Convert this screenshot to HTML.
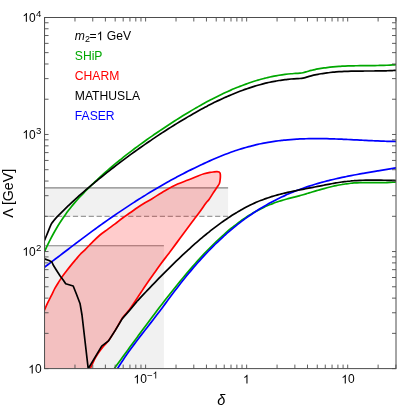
<!DOCTYPE html>
<html><head><meta charset="utf-8"><title>plot</title>
<style>html,body{margin:0;padding:0;background:#fff;overflow:hidden}body{width:399px;height:408px;font-family:"Liberation Sans",sans-serif}</style></head>
<body>
<svg width="399" height="408" viewBox="0 0 399 408" style="display:block;will-change:transform">
<rect width="399" height="408" fill="#fff"/>
<defs><clipPath id="c"><rect x="44.55" y="17.5" width="351.45" height="351.1"/></clipPath></defs>
<rect x="44.55" y="187.9" width="183.55" height="28.400000000000006" fill="#f1f1f1"/>
<rect x="44.55" y="245.8" width="119.35000000000001" height="122.80000000000001" fill="#f1f1f1"/>
<line x1="44.55" y1="187.9" x2="228.1" y2="187.9" stroke="#848484" stroke-width="1.1"/>
<line x1="44.55" y1="216.3" x2="228.1" y2="216.3" stroke="#848484" stroke-width="1" stroke-dasharray="5.2 2.7" stroke-dashoffset="3.25"/>
<line x1="44.55" y1="245.8" x2="163.9" y2="245.8" stroke="#848484" stroke-width="1.1"/>
<polygon points="44.55,298.3 50.3,298.3 44.55,310.4" fill="#ffffff"/>
<g clip-path="url(#c)" fill="none" stroke-linejoin="round" stroke-linecap="butt">
<path d="M44.50 310.10 C45.00 308.95 46.37 305.60 47.50 303.20 C48.63 300.80 50.05 298.20 51.30 295.70 C52.55 293.20 53.75 290.50 55.00 288.20 C56.25 285.90 57.53 283.91 58.80 281.90 C60.07 279.89 61.35 277.89 62.60 276.12 C63.85 274.35 64.85 273.13 66.30 271.26 C67.75 269.38 69.68 266.86 71.30 264.87 C72.92 262.88 74.53 261.03 76.00 259.30 C77.47 257.57 78.60 256.08 80.10 254.49 C81.60 252.90 82.93 251.85 85.00 249.78 C87.07 247.71 90.00 244.55 92.50 242.08 C95.00 239.61 97.48 237.10 100.00 234.98 C102.52 232.85 105.08 231.18 107.60 229.33 C110.12 227.48 112.60 225.78 115.10 223.89 C117.60 222.00 120.10 219.85 122.60 218.00 C125.10 216.15 127.60 214.55 130.10 212.80 C132.60 211.05 135.12 209.17 137.60 207.50 C140.08 205.83 142.52 204.31 145.00 202.80 C147.48 201.29 149.17 200.46 152.50 198.43 C155.83 196.41 160.82 193.04 165.00 190.65 C169.18 188.26 173.77 185.86 177.60 184.10 C181.43 182.34 184.60 181.43 188.00 180.07 C191.40 178.71 195.33 176.96 198.00 175.92 C200.67 174.88 202.00 174.39 204.00 173.80 C206.00 173.21 208.33 172.72 210.00 172.40 C211.67 172.08 212.83 172.02 214.00 171.90 C215.17 171.78 216.17 171.69 217.00 171.70 C217.83 171.71 218.48 171.71 219.00 171.96 C219.52 172.21 219.87 172.53 220.10 173.20 C220.33 173.87 220.40 174.87 220.40 176.00 C220.40 177.13 220.27 178.75 220.10 180.00 C219.93 181.25 219.88 182.33 219.40 183.50 C218.92 184.67 218.18 185.50 217.20 187.00 C216.22 188.50 214.87 190.42 213.50 192.50 C212.13 194.58 210.25 197.75 209.00 199.50 C207.75 201.25 207.50 201.00 206.00 203.00 C204.50 205.00 202.00 208.75 200.00 211.50 C198.00 214.25 196.00 216.83 194.00 219.50 C192.00 222.17 190.33 224.37 188.00 227.50 C185.67 230.63 182.77 234.55 180.00 238.30 C177.23 242.05 173.47 247.22 171.40 250.00 C169.33 252.78 169.28 252.80 167.60 255.00 C165.92 257.20 163.38 260.38 161.30 263.20 C159.22 266.02 157.18 268.98 155.10 271.90 C153.02 274.82 150.90 277.67 148.80 280.70 C146.70 283.73 144.58 286.97 142.50 290.10 C140.42 293.23 138.47 296.25 136.30 299.50 C134.13 302.75 131.78 306.57 129.50 309.60 C127.22 312.63 124.88 314.40 122.60 317.70 C120.32 321.00 118.08 325.65 115.80 329.40 C113.52 333.15 111.12 337.18 108.90 340.20 C106.68 343.22 104.68 344.70 102.50 347.50 C100.32 350.30 97.85 353.47 95.80 357.00 C93.75 360.53 91.13 366.75 90.20 368.70 L44.55 368.6 Z" fill="#ff0000" fill-opacity="0.2" stroke="none"/>
<path d="M44.50 310.10 C45.00 308.95 46.37 305.60 47.50 303.20 C48.63 300.80 50.05 298.20 51.30 295.70 C52.55 293.20 53.75 290.50 55.00 288.20 C56.25 285.90 57.53 283.91 58.80 281.90 C60.07 279.89 61.35 277.89 62.60 276.12 C63.85 274.35 64.85 273.13 66.30 271.26 C67.75 269.38 69.68 266.86 71.30 264.87 C72.92 262.88 74.53 261.03 76.00 259.30 C77.47 257.57 78.60 256.08 80.10 254.49 C81.60 252.90 82.93 251.85 85.00 249.78 C87.07 247.71 90.00 244.55 92.50 242.08 C95.00 239.61 97.48 237.10 100.00 234.98 C102.52 232.85 105.08 231.18 107.60 229.33 C110.12 227.48 112.60 225.78 115.10 223.89 C117.60 222.00 120.10 219.85 122.60 218.00 C125.10 216.15 127.60 214.55 130.10 212.80 C132.60 211.05 135.12 209.17 137.60 207.50 C140.08 205.83 142.52 204.31 145.00 202.80 C147.48 201.29 149.17 200.46 152.50 198.43 C155.83 196.41 160.82 193.04 165.00 190.65 C169.18 188.26 173.77 185.86 177.60 184.10 C181.43 182.34 184.60 181.43 188.00 180.07 C191.40 178.71 195.33 176.96 198.00 175.92 C200.67 174.88 202.00 174.39 204.00 173.80 C206.00 173.21 208.33 172.72 210.00 172.40 C211.67 172.08 212.83 172.02 214.00 171.90 C215.17 171.78 216.17 171.69 217.00 171.70 C217.83 171.71 218.48 171.71 219.00 171.96 C219.52 172.21 219.87 172.53 220.10 173.20 C220.33 173.87 220.40 174.87 220.40 176.00 C220.40 177.13 220.27 178.75 220.10 180.00 C219.93 181.25 219.88 182.33 219.40 183.50 C218.92 184.67 218.18 185.50 217.20 187.00 C216.22 188.50 214.87 190.42 213.50 192.50 C212.13 194.58 210.25 197.75 209.00 199.50 C207.75 201.25 207.50 201.00 206.00 203.00 C204.50 205.00 202.00 208.75 200.00 211.50 C198.00 214.25 196.00 216.83 194.00 219.50 C192.00 222.17 190.33 224.37 188.00 227.50 C185.67 230.63 182.77 234.55 180.00 238.30 C177.23 242.05 173.47 247.22 171.40 250.00 C169.33 252.78 169.28 252.80 167.60 255.00 C165.92 257.20 163.38 260.38 161.30 263.20 C159.22 266.02 157.18 268.98 155.10 271.90 C153.02 274.82 150.90 277.67 148.80 280.70 C146.70 283.73 144.58 286.97 142.50 290.10 C140.42 293.23 138.47 296.25 136.30 299.50 C134.13 302.75 131.78 306.57 129.50 309.60 C127.22 312.63 124.88 314.40 122.60 317.70 C120.32 321.00 118.08 325.65 115.80 329.40 C113.52 333.15 111.12 337.18 108.90 340.20 C106.68 343.22 104.68 344.70 102.50 347.50 C100.32 350.30 97.85 353.47 95.80 357.00 C93.75 360.53 91.13 366.75 90.20 368.70" stroke="#ff0000" stroke-width="1.7"/>
<path d="M44.50 251.55 C45.00 250.47 46.50 247.19 47.51 245.11 C48.51 243.04 49.51 241.04 50.51 239.10 C51.51 237.16 52.52 235.29 53.52 233.48 C54.52 231.67 55.52 229.92 56.52 228.22 C57.53 226.53 58.53 224.90 59.53 223.31 C60.53 221.73 61.53 220.20 62.53 218.71 C63.54 217.23 64.54 215.79 65.54 214.40 C66.54 213.00 67.54 211.66 68.55 210.34 C69.55 209.03 70.55 207.76 71.55 206.52 C72.55 205.29 73.56 204.09 74.56 202.91 C75.56 201.74 76.56 200.60 77.56 199.48 C78.57 198.36 79.57 197.27 80.57 196.20 C81.57 195.13 82.57 194.08 83.58 193.05 C84.58 192.01 85.58 191.00 86.58 189.99 C87.58 188.99 88.59 188.00 89.59 187.02 C90.59 186.03 91.59 185.06 92.59 184.10 C93.59 183.13 94.60 182.18 95.60 181.24 C96.60 180.29 97.60 179.36 98.60 178.43 C99.61 177.51 100.61 176.59 101.61 175.68 C102.61 174.78 103.61 173.88 104.62 172.99 C105.62 172.10 106.62 171.22 107.62 170.34 C108.62 169.47 109.63 168.60 110.63 167.75 C111.63 166.89 112.63 166.04 113.63 165.20 C114.64 164.36 115.64 163.52 116.64 162.70 C117.64 161.87 118.64 161.05 119.65 160.24 C120.65 159.42 121.65 158.62 122.65 157.82 C123.65 157.02 124.66 156.23 125.66 155.44 C126.66 154.66 127.66 153.88 128.66 153.11 C129.66 152.33 130.67 151.57 131.67 150.81 C132.67 150.05 133.67 149.29 134.67 148.54 C135.68 147.79 136.68 147.05 137.68 146.31 C138.68 145.57 139.68 144.84 140.69 144.11 C141.69 143.38 142.69 142.66 143.69 141.94 C144.69 141.22 145.70 140.51 146.70 139.80 C147.70 139.09 148.70 138.38 149.70 137.68 C150.71 136.98 151.71 136.28 152.71 135.59 C153.71 134.89 154.71 134.21 155.72 133.52 C156.72 132.83 157.72 132.15 158.72 131.47 C159.72 130.79 160.72 130.12 161.73 129.44 C162.73 128.77 163.73 128.10 164.73 127.43 C165.73 126.77 166.74 126.10 167.74 125.44 C168.74 124.78 169.74 124.13 170.74 123.47 C171.75 122.82 172.75 122.17 173.75 121.53 C174.75 120.88 175.75 120.24 176.76 119.60 C177.76 118.97 178.76 118.33 179.76 117.71 C180.76 117.08 181.77 116.45 182.77 115.83 C183.77 115.21 184.77 114.59 185.77 113.98 C186.78 113.37 187.78 112.76 188.78 112.16 C189.78 111.56 190.78 110.96 191.78 110.37 C192.79 109.78 193.79 109.19 194.79 108.61 C195.79 108.02 196.79 107.45 197.80 106.87 C198.80 106.30 199.80 105.73 200.80 105.17 C201.80 104.61 202.81 104.05 203.81 103.50 C204.81 102.95 205.81 102.41 206.81 101.87 C207.82 101.33 208.82 100.79 209.82 100.26 C210.82 99.74 211.82 99.21 212.83 98.70 C213.83 98.18 214.83 97.67 215.83 97.17 C216.83 96.66 217.84 96.17 218.84 95.68 C219.84 95.19 220.84 94.70 221.84 94.22 C222.84 93.74 223.85 93.27 224.85 92.81 C225.85 92.34 226.85 91.88 227.85 91.43 C228.86 90.98 229.86 90.54 230.86 90.10 C231.86 89.66 232.86 89.23 233.87 88.81 C234.87 88.39 235.87 87.97 236.87 87.56 C237.87 87.16 238.88 86.76 239.88 86.36 C240.88 85.97 241.88 85.58 242.88 85.21 C243.89 84.83 244.89 84.46 245.89 84.10 C246.89 83.74 247.89 83.38 248.90 83.04 C249.90 82.69 250.90 82.35 251.90 82.02 C252.90 81.69 253.91 81.37 254.91 81.06 C255.91 80.75 256.91 80.44 257.91 80.15 C258.91 79.85 259.92 79.56 260.92 79.28 C261.92 79.01 262.92 78.74 263.92 78.48 C264.93 78.22 265.93 77.96 266.93 77.72 C267.93 77.48 268.93 77.25 269.94 77.02 C270.94 76.80 271.94 76.58 272.94 76.38 C273.94 76.17 274.95 75.98 275.95 75.79 C276.95 75.61 277.95 75.43 278.95 75.26 C279.96 75.10 280.96 74.94 281.96 74.79 C282.96 74.65 283.96 74.51 284.97 74.38 C285.97 74.26 286.97 74.14 287.97 74.03 C288.97 73.93 289.97 73.83 290.98 73.75 C291.98 73.66 292.98 73.59 293.98 73.52 C294.98 73.46 295.99 73.41 296.99 73.36 C297.99 73.31 298.99 73.30 299.99 73.20 C301.00 73.10 302.00 72.96 303.00 72.74 C304.00 72.53 305.00 72.23 306.00 71.93 C307.00 71.63 308.00 71.24 309.00 70.96 C310.00 70.67 311.00 70.45 312.00 70.21 C313.00 69.98 314.00 69.76 315.00 69.55 C316.00 69.33 317.00 69.14 318.00 68.95 C319.00 68.76 320.00 68.58 321.00 68.42 C322.00 68.25 323.00 68.09 324.00 67.95 C325.00 67.80 326.00 67.66 327.00 67.54 C328.00 67.41 329.00 67.29 330.00 67.18 C331.00 67.07 332.00 66.97 333.00 66.87 C334.00 66.78 335.00 66.69 336.00 66.61 C337.00 66.53 338.00 66.46 339.00 66.39 C340.00 66.33 341.00 66.27 342.00 66.21 C343.00 66.16 344.00 66.11 345.00 66.07 C346.00 66.02 347.00 65.98 348.00 65.95 C349.00 65.91 350.00 65.88 351.00 65.85 C352.00 65.83 353.00 65.80 354.00 65.78 C355.00 65.76 356.00 65.75 357.00 65.73 C358.00 65.71 359.00 65.70 360.00 65.69 C361.00 65.68 362.00 65.67 363.00 65.66 C364.00 65.65 365.00 65.64 366.00 65.63 C367.00 65.62 368.00 65.61 369.00 65.61 C370.00 65.60 371.00 65.59 372.00 65.58 C373.00 65.57 374.00 65.55 375.00 65.54 C376.00 65.53 377.00 65.51 378.00 65.49 C379.00 65.47 380.00 65.45 381.00 65.43 C382.00 65.41 383.00 65.38 384.00 65.35 C385.00 65.32 386.00 65.28 387.00 65.24 C388.00 65.20 389.00 65.16 390.00 65.11 C391.00 65.06 392.00 65.00 393.00 64.94 C394.00 64.88 395.50 64.77 396.00 64.74" stroke="#00a800" stroke-width="1.7"/>
<path d="M114.40 368.38 C114.90 367.70 116.40 365.65 117.40 364.28 C118.39 362.92 119.39 361.55 120.39 360.18 C121.39 358.81 122.39 357.44 123.39 356.08 C124.39 354.71 125.38 353.34 126.38 351.97 C127.38 350.60 128.38 349.24 129.38 347.87 C130.38 346.50 131.38 345.14 132.37 343.78 C133.37 342.41 134.37 341.05 135.37 339.69 C136.37 338.33 137.37 336.97 138.37 335.61 C139.36 334.25 140.36 332.90 141.36 331.55 C142.36 330.19 143.36 328.84 144.36 327.50 C145.36 326.15 146.35 324.81 147.35 323.47 C148.35 322.13 149.35 320.79 150.35 319.46 C151.35 318.12 152.35 316.79 153.34 315.47 C154.34 314.15 155.34 312.82 156.34 311.51 C157.34 310.19 158.34 308.88 159.34 307.58 C160.33 306.27 161.33 304.97 162.33 303.67 C163.33 302.38 164.33 301.09 165.33 299.81 C166.33 298.52 167.32 297.24 168.32 295.97 C169.32 294.70 170.32 293.44 171.32 292.18 C172.32 290.92 173.32 289.67 174.31 288.43 C175.31 287.18 176.31 285.95 177.31 284.72 C178.31 283.49 179.31 282.27 180.31 281.05 C181.30 279.84 182.30 278.63 183.30 277.44 C184.30 276.24 185.30 275.05 186.30 273.87 C187.30 272.69 188.30 271.52 189.29 270.36 C190.29 269.20 191.29 268.05 192.29 266.91 C193.29 265.77 194.29 264.63 195.29 263.51 C196.28 262.39 197.28 261.28 198.28 260.18 C199.28 259.08 200.28 257.99 201.28 256.91 C202.28 255.83 203.27 254.76 204.27 253.70 C205.27 252.65 206.27 251.60 207.27 250.57 C208.27 249.54 209.27 248.51 210.26 247.50 C211.26 246.50 212.26 245.50 213.26 244.51 C214.26 243.53 215.26 242.56 216.26 241.60 C217.25 240.64 218.25 239.70 219.25 238.77 C220.25 237.84 221.25 236.92 222.25 236.01 C223.25 235.11 224.24 234.22 225.24 233.34 C226.24 232.47 227.24 231.61 228.24 230.76 C229.24 229.92 230.24 229.08 231.23 228.27 C232.23 227.45 233.23 226.65 234.23 225.87 C235.23 225.08 236.23 224.31 237.23 223.56 C238.22 222.81 239.22 222.07 240.22 221.35 C241.22 220.63 242.22 219.93 243.22 219.24 C244.22 218.55 245.21 217.88 246.21 217.23 C247.21 216.57 248.21 215.94 249.21 215.32 C250.21 214.70 251.21 214.09 252.20 213.50 C253.20 212.91 254.20 212.34 255.20 211.79 C256.20 211.23 257.20 210.69 258.20 210.16 C259.19 209.64 260.19 209.13 261.19 208.63 C262.19 208.14 263.19 207.66 264.19 207.19 C265.19 206.73 266.18 206.28 267.18 205.84 C268.18 205.41 269.18 204.98 270.18 204.58 C271.18 204.17 272.18 203.78 273.17 203.40 C274.17 203.02 275.17 202.66 276.17 202.31 C277.17 201.96 278.17 201.62 279.17 201.30 C280.16 200.98 281.16 200.67 282.16 200.37 C283.16 200.07 284.16 199.79 285.16 199.51 C286.16 199.23 287.15 198.96 288.15 198.69 C289.15 198.43 290.15 198.17 291.15 197.91 C292.15 197.65 293.15 197.39 294.14 197.13 C295.14 196.87 296.14 196.62 297.14 196.35 C298.14 196.09 299.14 195.82 300.14 195.55 C301.13 195.27 302.13 194.99 303.13 194.70 C304.13 194.41 305.13 194.12 306.13 193.82 C307.13 193.53 308.12 193.22 309.12 192.92 C310.12 192.62 311.12 192.32 312.12 192.02 C313.12 191.72 314.12 191.42 315.11 191.12 C316.11 190.83 317.11 190.53 318.11 190.24 C319.11 189.95 320.11 189.67 321.11 189.38 C322.10 189.10 323.10 188.83 324.10 188.56 C325.10 188.29 326.10 188.02 327.10 187.76 C328.10 187.50 329.10 187.25 330.09 187.00 C331.09 186.76 332.09 186.52 333.09 186.29 C334.09 186.06 335.09 185.84 336.09 185.63 C337.08 185.42 338.08 185.21 339.08 185.02 C340.08 184.83 341.08 184.64 342.08 184.47 C343.08 184.30 344.07 184.13 345.07 183.98 C346.07 183.83 347.07 183.69 348.07 183.57 C349.07 183.44 350.07 183.33 351.06 183.22 C352.06 183.12 353.06 183.04 354.06 182.96 C355.06 182.89 356.06 182.83 357.06 182.78 C358.05 182.73 359.05 182.69 360.05 182.66 C361.05 182.63 362.05 182.61 363.05 182.59 C364.05 182.58 365.04 182.57 366.04 182.57 C367.04 182.57 368.04 182.57 369.04 182.58 C370.04 182.58 371.04 182.60 372.03 182.60 C373.03 182.61 374.03 182.63 375.03 182.64 C376.03 182.65 377.03 182.66 378.03 182.66 C379.02 182.67 380.02 182.67 381.02 182.67 C382.02 182.66 383.02 182.66 384.02 182.64 C385.02 182.63 386.01 182.61 387.01 182.57 C388.01 182.54 389.01 182.50 390.01 182.45 C391.01 182.40 392.01 182.34 393.00 182.26 C394.00 182.18 395.50 182.04 396.00 181.99" stroke="#00a800" stroke-width="1.7"/>
<path d="M44.50 267.21 C45.00 266.84 46.50 265.71 47.50 264.95 C48.51 264.19 49.51 263.44 50.51 262.68 C51.51 261.92 52.51 261.16 53.51 260.40 C54.51 259.64 55.52 258.88 56.52 258.11 C57.52 257.35 58.52 256.59 59.52 255.83 C60.52 255.06 61.52 254.30 62.53 253.54 C63.53 252.77 64.53 252.01 65.53 251.25 C66.53 250.48 67.53 249.72 68.53 248.96 C69.54 248.20 70.54 247.44 71.54 246.67 C72.54 245.91 73.54 245.15 74.54 244.40 C75.54 243.64 76.55 242.88 77.55 242.12 C78.55 241.37 79.55 240.61 80.55 239.86 C81.55 239.10 82.55 238.35 83.56 237.60 C84.56 236.85 85.56 236.10 86.56 235.36 C87.56 234.61 88.56 233.87 89.56 233.13 C90.57 232.39 91.57 231.65 92.57 230.92 C93.57 230.18 94.57 229.45 95.57 228.72 C96.57 227.99 97.58 227.27 98.58 226.54 C99.58 225.82 100.58 225.10 101.58 224.39 C102.58 223.67 103.58 222.96 104.59 222.26 C105.59 221.55 106.59 220.84 107.59 220.14 C108.59 219.44 109.59 218.74 110.59 218.05 C111.60 217.36 112.60 216.66 113.60 215.98 C114.60 215.29 115.60 214.60 116.60 213.92 C117.60 213.24 118.61 212.56 119.61 211.88 C120.61 211.20 121.61 210.53 122.61 209.86 C123.61 209.19 124.61 208.52 125.62 207.86 C126.62 207.19 127.62 206.53 128.62 205.87 C129.62 205.21 130.62 204.56 131.62 203.91 C132.63 203.25 133.63 202.61 134.63 201.96 C135.63 201.32 136.63 200.67 137.63 200.04 C138.63 199.40 139.64 198.76 140.64 198.13 C141.64 197.50 142.64 196.87 143.64 196.25 C144.64 195.62 145.64 195.00 146.65 194.39 C147.65 193.77 148.65 193.16 149.65 192.55 C150.65 191.94 151.65 191.33 152.65 190.73 C153.66 190.13 154.66 189.53 155.66 188.94 C156.66 188.34 157.66 187.75 158.66 187.17 C159.66 186.58 160.67 186.00 161.67 185.42 C162.67 184.84 163.67 184.27 164.67 183.70 C165.67 183.13 166.67 182.56 167.68 182.00 C168.68 181.44 169.68 180.89 170.68 180.33 C171.68 179.78 172.68 179.23 173.68 178.69 C174.69 178.14 175.69 177.61 176.69 177.07 C177.69 176.54 178.69 176.01 179.69 175.48 C180.69 174.95 181.70 174.43 182.70 173.92 C183.70 173.40 184.70 172.89 185.70 172.38 C186.70 171.87 187.70 171.36 188.71 170.86 C189.71 170.36 190.71 169.87 191.71 169.37 C192.71 168.88 193.71 168.39 194.71 167.91 C195.72 167.42 196.72 166.94 197.72 166.46 C198.72 165.98 199.72 165.51 200.72 165.03 C201.72 164.56 202.73 164.09 203.73 163.63 C204.73 163.16 205.73 162.70 206.73 162.24 C207.73 161.79 208.73 161.33 209.74 160.88 C210.74 160.43 211.74 159.99 212.74 159.55 C213.74 159.11 214.74 158.68 215.74 158.25 C216.75 157.82 217.75 157.40 218.75 156.98 C219.75 156.56 220.75 156.15 221.75 155.75 C222.75 155.35 223.75 154.95 224.76 154.56 C225.76 154.17 226.76 153.79 227.76 153.42 C228.76 153.04 229.76 152.68 230.76 152.32 C231.77 151.96 232.77 151.61 233.77 151.27 C234.77 150.92 235.77 150.59 236.77 150.26 C237.77 149.93 238.78 149.61 239.78 149.30 C240.78 148.98 241.78 148.68 242.78 148.38 C243.78 148.08 244.78 147.79 245.79 147.50 C246.79 147.22 247.79 146.94 248.79 146.67 C249.79 146.40 250.79 146.14 251.79 145.89 C252.80 145.63 253.80 145.39 254.80 145.15 C255.80 144.91 256.80 144.67 257.80 144.45 C258.80 144.22 259.81 144.00 260.81 143.79 C261.81 143.58 262.81 143.37 263.81 143.18 C264.81 142.98 265.81 142.79 266.82 142.61 C267.82 142.42 268.82 142.25 269.82 142.08 C270.82 141.91 271.82 141.75 272.82 141.60 C273.83 141.44 274.83 141.29 275.83 141.15 C276.83 141.01 277.83 140.88 278.83 140.75 C279.83 140.62 280.84 140.50 281.84 140.39 C282.84 140.27 283.84 140.17 284.84 140.06 C285.84 139.96 286.84 139.87 287.85 139.78 C288.85 139.69 289.85 139.60 290.85 139.53 C291.85 139.45 292.85 139.38 293.85 139.31 C294.86 139.24 295.86 139.18 296.86 139.12 C297.86 139.07 298.86 139.01 299.86 138.97 C300.86 138.92 301.87 138.88 302.87 138.84 C303.87 138.81 304.87 138.77 305.87 138.74 C306.87 138.72 307.87 138.69 308.88 138.67 C309.88 138.65 310.88 138.64 311.88 138.63 C312.88 138.62 313.88 138.61 314.88 138.61 C315.89 138.60 316.89 138.60 317.89 138.60 C318.89 138.61 319.89 138.61 320.89 138.62 C321.89 138.63 322.90 138.65 323.90 138.66 C324.90 138.68 325.90 138.70 326.90 138.72 C327.90 138.74 328.90 138.77 329.91 138.79 C330.91 138.82 331.91 138.85 332.91 138.88 C333.91 138.91 334.91 138.95 335.91 138.98 C336.92 139.02 337.92 139.05 338.92 139.09 C339.92 139.13 340.92 139.17 341.92 139.22 C342.92 139.26 343.93 139.30 344.93 139.35 C345.93 139.39 346.93 139.44 347.93 139.48 C348.93 139.53 349.93 139.58 350.94 139.63 C351.94 139.68 352.94 139.73 353.94 139.78 C354.94 139.83 355.94 139.88 356.94 139.93 C357.95 139.98 358.95 140.03 359.95 140.08 C360.95 140.13 361.95 140.18 362.95 140.23 C363.95 140.29 364.96 140.34 365.96 140.39 C366.96 140.44 367.96 140.49 368.96 140.53 C369.96 140.58 370.96 140.63 371.97 140.68 C372.97 140.72 373.97 140.77 374.97 140.81 C375.97 140.86 376.97 140.90 377.97 140.94 C378.98 140.99 379.98 141.03 380.98 141.07 C381.98 141.10 382.98 141.14 383.98 141.18 C384.98 141.21 385.99 141.24 386.99 141.28 C387.99 141.31 388.99 141.33 389.99 141.36 C390.99 141.39 391.99 141.41 393.00 141.43 C394.00 141.45 395.50 141.48 396.00 141.49" stroke="#0000ff" stroke-width="1.7"/>
<path d="M117.60 368.47 C118.10 367.68 119.60 365.30 120.59 363.76 C121.59 362.21 122.59 360.70 123.59 359.22 C124.58 357.73 125.58 356.28 126.58 354.84 C127.58 353.41 128.58 352.00 129.57 350.60 C130.57 349.21 131.57 347.84 132.57 346.48 C133.57 345.12 134.56 343.79 135.56 342.46 C136.56 341.13 137.56 339.82 138.55 338.51 C139.55 337.21 140.55 335.92 141.55 334.63 C142.55 333.34 143.54 332.06 144.54 330.78 C145.54 329.50 146.54 328.22 147.54 326.94 C148.53 325.67 149.53 324.39 150.53 323.11 C151.53 321.83 152.52 320.54 153.52 319.25 C154.52 317.95 155.52 316.65 156.52 315.34 C157.51 314.03 158.51 312.71 159.51 311.39 C160.51 310.06 161.51 308.72 162.50 307.39 C163.50 306.05 164.50 304.71 165.50 303.37 C166.49 302.03 167.49 300.68 168.49 299.34 C169.49 298.00 170.49 296.66 171.48 295.33 C172.48 293.99 173.48 292.66 174.48 291.34 C175.48 290.02 176.47 288.71 177.47 287.41 C178.47 286.11 179.47 284.81 180.46 283.54 C181.46 282.26 182.46 280.99 183.46 279.74 C184.46 278.49 185.45 277.25 186.45 276.03 C187.45 274.80 188.45 273.59 189.45 272.39 C190.44 271.19 191.44 270.01 192.44 268.84 C193.44 267.66 194.43 266.50 195.43 265.36 C196.43 264.21 197.43 263.08 198.43 261.96 C199.42 260.84 200.42 259.73 201.42 258.64 C202.42 257.54 203.42 256.46 204.41 255.39 C205.41 254.32 206.41 253.27 207.41 252.22 C208.40 251.18 209.40 250.15 210.40 249.13 C211.40 248.11 212.40 247.11 213.39 246.11 C214.39 245.12 215.39 244.14 216.39 243.18 C217.38 242.21 218.38 241.25 219.38 240.31 C220.38 239.37 221.38 238.44 222.37 237.52 C223.37 236.61 224.37 235.70 225.37 234.81 C226.37 233.92 227.36 233.04 228.36 232.17 C229.36 231.30 230.36 230.45 231.35 229.60 C232.35 228.76 233.35 227.93 234.35 227.11 C235.35 226.29 236.34 225.49 237.34 224.69 C238.34 223.90 239.34 223.12 240.34 222.35 C241.33 221.58 242.33 220.82 243.33 220.08 C244.33 219.33 245.32 218.60 246.32 217.88 C247.32 217.16 248.32 216.45 249.32 215.75 C250.31 215.05 251.31 214.37 252.31 213.69 C253.31 213.02 254.31 212.36 255.30 211.71 C256.30 211.06 257.30 210.42 258.30 209.79 C259.29 209.16 260.29 208.55 261.29 207.94 C262.29 207.34 263.29 206.74 264.28 206.16 C265.28 205.57 266.28 205.00 267.28 204.44 C268.28 203.87 269.27 203.32 270.27 202.78 C271.27 202.24 272.27 201.70 273.26 201.18 C274.26 200.66 275.26 200.15 276.26 199.64 C277.26 199.14 278.25 198.65 279.25 198.16 C280.25 197.68 281.25 197.20 282.25 196.74 C283.24 196.27 284.24 195.81 285.24 195.37 C286.24 194.92 287.23 194.48 288.23 194.05 C289.23 193.62 290.23 193.19 291.23 192.78 C292.22 192.37 293.22 191.96 294.22 191.56 C295.22 191.16 296.22 190.77 297.21 190.39 C298.21 190.01 299.21 189.63 300.21 189.27 C301.20 188.90 302.20 188.54 303.20 188.19 C304.20 187.83 305.20 187.49 306.19 187.15 C307.19 186.81 308.19 186.48 309.19 186.15 C310.18 185.83 311.18 185.51 312.18 185.19 C313.18 184.88 314.18 184.58 315.17 184.27 C316.17 183.97 317.17 183.68 318.17 183.39 C319.17 183.10 320.16 182.82 321.16 182.54 C322.16 182.27 323.16 181.99 324.15 181.73 C325.15 181.46 326.15 181.20 327.15 180.94 C328.15 180.69 329.14 180.44 330.14 180.19 C331.14 179.94 332.14 179.70 333.14 179.46 C334.13 179.22 335.13 178.99 336.13 178.76 C337.13 178.53 338.12 178.31 339.12 178.09 C340.12 177.87 341.12 177.65 342.12 177.44 C343.11 177.22 344.11 177.01 345.11 176.80 C346.11 176.60 347.11 176.39 348.10 176.19 C349.10 175.99 350.10 175.80 351.10 175.60 C352.09 175.41 353.09 175.22 354.09 175.03 C355.09 174.84 356.09 174.65 357.08 174.47 C358.08 174.28 359.08 174.10 360.08 173.92 C361.08 173.74 362.07 173.56 363.07 173.38 C364.07 173.21 365.07 173.03 366.06 172.86 C367.06 172.68 368.06 172.51 369.06 172.34 C370.06 172.17 371.05 172.00 372.05 171.83 C373.05 171.66 374.05 171.49 375.05 171.33 C376.04 171.16 377.04 170.99 378.04 170.83 C379.04 170.66 380.03 170.49 381.03 170.33 C382.03 170.16 383.03 170.00 384.03 169.83 C385.02 169.66 386.02 169.50 387.02 169.33 C388.02 169.16 389.02 168.99 390.01 168.83 C391.01 168.66 392.01 168.49 393.01 168.32 C394.00 168.15 395.50 167.89 396.00 167.81" stroke="#0000ff" stroke-width="1.7"/>
<path d="M44.50 240.50 C45.03 239.18 46.62 235.25 47.70 232.60 C48.78 229.95 50.07 226.48 51.00 224.60 C51.93 222.72 52.42 222.46 53.30 221.30 C54.18 220.14 55.31 218.75 56.31 217.63 C57.31 216.51 58.31 215.57 59.32 214.56 C60.32 213.55 61.32 212.55 62.33 211.55 C63.33 210.56 64.33 209.58 65.33 208.61 C66.34 207.64 67.34 206.68 68.34 205.72 C69.34 204.77 70.35 203.83 71.35 202.89 C72.35 201.96 73.36 201.03 74.36 200.12 C75.36 199.20 76.36 198.29 77.37 197.39 C78.37 196.49 79.37 195.59 80.38 194.71 C81.38 193.82 82.38 192.94 83.38 192.07 C84.39 191.20 85.39 190.33 86.39 189.47 C87.40 188.61 88.40 187.76 89.40 186.91 C90.40 186.07 91.41 185.23 92.41 184.39 C93.41 183.55 94.42 182.72 95.42 181.90 C96.42 181.07 97.42 180.25 98.43 179.43 C99.43 178.62 100.43 177.80 101.43 177.00 C102.44 176.19 103.44 175.38 104.44 174.58 C105.45 173.78 106.45 172.98 107.45 172.19 C108.45 171.40 109.46 170.61 110.46 169.83 C111.46 169.04 112.47 168.26 113.47 167.48 C114.47 166.71 115.47 165.94 116.48 165.17 C117.48 164.40 118.48 163.63 119.49 162.87 C120.49 162.11 121.49 161.35 122.49 160.60 C123.50 159.85 124.50 159.10 125.50 158.35 C126.51 157.61 127.51 156.87 128.51 156.13 C129.51 155.39 130.52 154.66 131.52 153.93 C132.52 153.20 133.52 152.47 134.53 151.75 C135.53 151.03 136.53 150.31 137.54 149.59 C138.54 148.88 139.54 148.17 140.54 147.46 C141.55 146.75 142.55 146.05 143.55 145.35 C144.56 144.65 145.56 143.96 146.56 143.26 C147.56 142.57 148.57 141.88 149.57 141.20 C150.57 140.51 151.58 139.83 152.58 139.16 C153.58 138.48 154.58 137.81 155.59 137.14 C156.59 136.47 157.59 135.80 158.60 135.14 C159.60 134.47 160.60 133.82 161.60 133.16 C162.61 132.51 163.61 131.85 164.61 131.21 C165.61 130.56 166.62 129.91 167.62 129.27 C168.62 128.63 169.63 127.99 170.63 127.36 C171.63 126.73 172.63 126.10 173.64 125.47 C174.64 124.84 175.64 124.22 176.65 123.60 C177.65 122.98 178.65 122.37 179.65 121.76 C180.66 121.15 181.66 120.54 182.66 119.94 C183.67 119.34 184.67 118.74 185.67 118.15 C186.67 117.55 187.68 116.96 188.68 116.38 C189.68 115.79 190.69 115.21 191.69 114.64 C192.69 114.06 193.69 113.49 194.70 112.93 C195.70 112.36 196.70 111.80 197.70 111.24 C198.71 110.69 199.71 110.14 200.71 109.59 C201.72 109.05 202.72 108.51 203.72 107.97 C204.72 107.44 205.73 106.91 206.73 106.39 C207.73 105.86 208.74 105.34 209.74 104.83 C210.74 104.32 211.74 103.81 212.75 103.31 C213.75 102.81 214.75 102.31 215.76 101.83 C216.76 101.34 217.76 100.85 218.76 100.38 C219.77 99.90 220.77 99.43 221.77 98.97 C222.78 98.50 223.78 98.04 224.78 97.59 C225.78 97.14 226.79 96.70 227.79 96.26 C228.79 95.82 229.79 95.39 230.80 94.96 C231.80 94.54 232.80 94.12 233.81 93.71 C234.81 93.30 235.81 92.90 236.81 92.50 C237.82 92.10 238.82 91.72 239.82 91.33 C240.83 90.95 241.83 90.58 242.83 90.21 C243.83 89.84 244.84 89.48 245.84 89.13 C246.84 88.78 247.85 88.44 248.85 88.10 C249.85 87.76 250.85 87.43 251.86 87.11 C252.86 86.79 253.86 86.48 254.87 86.18 C255.87 85.87 256.87 85.58 257.87 85.29 C258.88 85.00 259.88 84.72 260.88 84.45 C261.88 84.18 262.89 83.92 263.89 83.66 C264.89 83.41 265.90 83.16 266.90 82.93 C267.90 82.69 268.90 82.46 269.91 82.24 C270.91 82.02 271.91 81.81 272.92 81.61 C273.92 81.41 274.92 81.22 275.92 81.04 C276.93 80.86 277.93 80.68 278.93 80.52 C279.94 80.36 280.94 80.20 281.94 80.06 C282.94 79.92 283.95 79.78 284.95 79.66 C285.95 79.53 286.96 79.42 287.96 79.31 C288.96 79.21 289.96 79.11 290.97 79.02 C291.97 78.94 292.97 78.86 293.97 78.80 C294.98 78.74 295.98 78.69 296.98 78.64 C297.99 78.58 298.99 78.58 299.99 78.48 C300.99 78.39 302.00 78.26 303.00 78.06 C304.00 77.87 305.00 77.59 306.00 77.31 C307.00 77.03 308.00 76.66 309.00 76.38 C310.00 76.10 311.00 75.86 312.00 75.62 C313.00 75.38 314.00 75.15 315.00 74.94 C316.00 74.72 317.00 74.52 318.00 74.33 C319.00 74.13 320.00 73.95 321.00 73.78 C322.00 73.61 323.00 73.45 324.00 73.30 C325.00 73.15 326.00 73.01 327.00 72.88 C328.00 72.75 329.00 72.63 330.00 72.52 C331.00 72.41 332.00 72.30 333.00 72.21 C334.00 72.11 335.00 72.02 336.00 71.94 C337.00 71.86 338.00 71.79 339.00 71.72 C340.00 71.65 341.00 71.59 342.00 71.54 C343.00 71.48 344.00 71.44 345.00 71.39 C346.00 71.35 347.00 71.31 348.00 71.28 C349.00 71.24 350.00 71.21 351.00 71.19 C352.00 71.16 353.00 71.14 354.00 71.12 C355.00 71.11 356.00 71.09 357.00 71.08 C358.00 71.07 359.00 71.06 360.00 71.05 C361.00 71.04 362.00 71.03 363.00 71.03 C364.00 71.02 365.00 71.02 366.00 71.01 C367.00 71.01 368.00 71.01 369.00 71.00 C370.00 71.00 371.00 71.00 372.00 70.99 C373.00 70.99 374.00 70.98 375.00 70.97 C376.00 70.96 377.00 70.96 378.00 70.94 C379.00 70.93 380.00 70.92 381.00 70.90 C382.00 70.89 383.00 70.87 384.00 70.84 C385.00 70.82 386.00 70.79 387.00 70.76 C388.00 70.73 389.00 70.70 390.00 70.66 C391.00 70.62 392.00 70.57 393.00 70.52 C394.00 70.47 395.50 70.38 396.00 70.35" stroke="#000000" stroke-width="1.7"/>
<path d="M44.50 258.90 L49.00 260.50 L51.90 262.00 L53.20 265.00 L56.30 270.00 L60.00 275.70 L63.20 280.00 L65.70 283.80 L73.20 286.00 L76.30 293.80 L80.10 303.80 L82.00 315.00 L88.20 368.70 L101.70 346.17 L108.50 340.85 L115.40 330.14 L122.30 318.58 L129.10 310.93 L137.00 301.38" stroke="#000000" stroke-width="1.7"/>
<path d="M137.00 301.38 C137.50 300.84 139.01 299.23 140.01 298.16 C141.02 297.09 142.02 296.02 143.02 294.95 C144.03 293.88 145.03 292.82 146.03 291.76 C147.04 290.70 148.04 289.64 149.05 288.58 C150.05 287.53 151.05 286.48 152.06 285.43 C153.06 284.38 154.07 283.34 155.07 282.30 C156.07 281.26 157.08 280.23 158.08 279.20 C159.09 278.16 160.09 277.14 161.09 276.12 C162.10 275.09 163.10 274.08 164.10 273.06 C165.11 272.05 166.11 271.04 167.12 270.04 C168.12 269.04 169.12 268.04 170.13 267.05 C171.13 266.06 172.14 265.07 173.14 264.09 C174.14 263.11 175.15 262.13 176.15 261.16 C177.16 260.20 178.16 259.23 179.16 258.28 C180.17 257.32 181.17 256.37 182.17 255.43 C183.18 254.48 184.18 253.55 185.19 252.62 C186.19 251.69 187.19 250.77 188.20 249.85 C189.20 248.93 190.21 248.03 191.21 247.13 C192.21 246.23 193.22 245.33 194.22 244.45 C195.22 243.56 196.23 242.68 197.23 241.82 C198.24 240.95 199.24 240.09 200.24 239.23 C201.25 238.38 202.25 237.54 203.26 236.70 C204.26 235.87 205.26 235.04 206.27 234.22 C207.27 233.40 208.28 232.60 209.28 231.80 C210.28 231.00 211.29 230.21 212.29 229.43 C213.29 228.65 214.30 227.88 215.30 227.12 C216.31 226.36 217.31 225.60 218.31 224.86 C219.32 224.12 220.32 223.39 221.33 222.67 C222.33 221.95 223.33 221.24 224.34 220.55 C225.34 219.85 226.34 219.16 227.35 218.48 C228.35 217.81 229.36 217.14 230.36 216.49 C231.36 215.83 232.37 215.19 233.37 214.56 C234.38 213.93 235.38 213.31 236.38 212.70 C237.39 212.10 238.39 211.50 239.40 210.92 C240.40 210.33 241.40 209.76 242.41 209.21 C243.41 208.65 244.41 208.10 245.42 207.57 C246.42 207.04 247.43 206.52 248.43 206.01 C249.43 205.50 250.44 205.01 251.44 204.53 C252.45 204.05 253.45 203.58 254.45 203.13 C255.46 202.68 256.46 202.24 257.47 201.82 C258.47 201.39 259.47 200.98 260.48 200.58 C261.48 200.19 262.48 199.80 263.49 199.43 C264.49 199.06 265.50 198.70 266.50 198.35 C267.50 198.00 268.51 197.67 269.51 197.34 C270.52 197.02 271.52 196.70 272.52 196.40 C273.53 196.09 274.53 195.80 275.53 195.51 C276.54 195.22 277.54 194.95 278.55 194.68 C279.55 194.41 280.55 194.15 281.56 193.89 C282.56 193.64 283.57 193.40 284.57 193.15 C285.57 192.91 286.58 192.68 287.58 192.45 C288.59 192.23 289.59 192.00 290.59 191.79 C291.60 191.57 292.60 191.36 293.60 191.15 C294.61 190.94 295.61 190.73 296.62 190.53 C297.62 190.33 298.62 190.13 299.63 189.93 C300.63 189.74 301.64 189.54 302.64 189.35 C303.64 189.15 304.65 188.96 305.65 188.77 C306.66 188.58 307.66 188.39 308.66 188.20 C309.67 188.00 310.67 187.81 311.67 187.62 C312.68 187.43 313.68 187.23 314.69 187.03 C315.69 186.84 316.69 186.64 317.70 186.44 C318.70 186.24 319.71 186.04 320.71 185.84 C321.71 185.63 322.72 185.43 323.72 185.23 C324.72 185.03 325.73 184.83 326.73 184.64 C327.74 184.44 328.74 184.25 329.74 184.06 C330.75 183.87 331.75 183.68 332.76 183.50 C333.76 183.31 334.76 183.14 335.77 182.96 C336.77 182.79 337.78 182.63 338.78 182.47 C339.78 182.31 340.79 182.16 341.79 182.02 C342.79 181.87 343.80 181.74 344.80 181.61 C345.81 181.49 346.81 181.37 347.81 181.27 C348.82 181.16 349.82 181.06 350.83 180.98 C351.83 180.89 352.83 180.81 353.84 180.73 C354.84 180.66 355.84 180.60 356.85 180.54 C357.85 180.48 358.86 180.43 359.86 180.39 C360.86 180.34 361.87 180.30 362.87 180.27 C363.88 180.24 364.88 180.22 365.88 180.19 C366.89 180.17 367.89 180.16 368.90 180.15 C369.90 180.14 370.90 180.13 371.91 180.13 C372.91 180.12 373.91 180.13 374.92 180.13 C375.92 180.13 376.93 180.14 377.93 180.15 C378.93 180.16 379.94 180.18 380.94 180.19 C381.95 180.21 382.95 180.22 383.95 180.24 C384.96 180.26 385.96 180.28 386.97 180.30 C387.97 180.32 388.97 180.34 389.98 180.36 C390.98 180.38 391.98 180.41 392.99 180.43 C393.99 180.45 395.50 180.48 396.00 180.49" stroke="#000000" stroke-width="1.7"/>
</g>
<g stroke="#4d4d4d" stroke-width="0.9" fill="none">
<line x1="44.55" y1="368.6" x2="44.55" y2="364.6"/>
<line x1="44.55" y1="17.5" x2="44.55" y2="21.5"/>
<line x1="74.97" y1="368.6" x2="74.97" y2="364.6"/>
<line x1="74.97" y1="17.5" x2="74.97" y2="21.5"/>
<line x1="92.76" y1="368.6" x2="92.76" y2="364.6"/>
<line x1="92.76" y1="17.5" x2="92.76" y2="21.5"/>
<line x1="105.39" y1="368.6" x2="105.39" y2="364.6"/>
<line x1="105.39" y1="17.5" x2="105.39" y2="21.5"/>
<line x1="115.18" y1="368.6" x2="115.18" y2="364.6"/>
<line x1="115.18" y1="17.5" x2="115.18" y2="21.5"/>
<line x1="123.18" y1="368.6" x2="123.18" y2="364.6"/>
<line x1="123.18" y1="17.5" x2="123.18" y2="21.5"/>
<line x1="129.95" y1="368.6" x2="129.95" y2="364.6"/>
<line x1="129.95" y1="17.5" x2="129.95" y2="21.5"/>
<line x1="135.81" y1="368.6" x2="135.81" y2="364.6"/>
<line x1="135.81" y1="17.5" x2="135.81" y2="21.5"/>
<line x1="140.98" y1="368.6" x2="140.98" y2="364.6"/>
<line x1="140.98" y1="17.5" x2="140.98" y2="21.5"/>
<line x1="145.60" y1="368.6" x2="145.60" y2="364.6"/>
<line x1="145.60" y1="17.5" x2="145.60" y2="21.5"/>
<line x1="176.02" y1="368.6" x2="176.02" y2="364.6"/>
<line x1="176.02" y1="17.5" x2="176.02" y2="21.5"/>
<line x1="193.81" y1="368.6" x2="193.81" y2="364.6"/>
<line x1="193.81" y1="17.5" x2="193.81" y2="21.5"/>
<line x1="206.44" y1="368.6" x2="206.44" y2="364.6"/>
<line x1="206.44" y1="17.5" x2="206.44" y2="21.5"/>
<line x1="216.23" y1="368.6" x2="216.23" y2="364.6"/>
<line x1="216.23" y1="17.5" x2="216.23" y2="21.5"/>
<line x1="224.23" y1="368.6" x2="224.23" y2="364.6"/>
<line x1="224.23" y1="17.5" x2="224.23" y2="21.5"/>
<line x1="231.00" y1="368.6" x2="231.00" y2="364.6"/>
<line x1="231.00" y1="17.5" x2="231.00" y2="21.5"/>
<line x1="236.86" y1="368.6" x2="236.86" y2="364.6"/>
<line x1="236.86" y1="17.5" x2="236.86" y2="21.5"/>
<line x1="242.03" y1="368.6" x2="242.03" y2="364.6"/>
<line x1="242.03" y1="17.5" x2="242.03" y2="21.5"/>
<line x1="246.65" y1="368.6" x2="246.65" y2="364.6"/>
<line x1="246.65" y1="17.5" x2="246.65" y2="21.5"/>
<line x1="277.07" y1="368.6" x2="277.07" y2="364.6"/>
<line x1="277.07" y1="17.5" x2="277.07" y2="21.5"/>
<line x1="294.86" y1="368.6" x2="294.86" y2="364.6"/>
<line x1="294.86" y1="17.5" x2="294.86" y2="21.5"/>
<line x1="307.49" y1="368.6" x2="307.49" y2="364.6"/>
<line x1="307.49" y1="17.5" x2="307.49" y2="21.5"/>
<line x1="317.28" y1="368.6" x2="317.28" y2="364.6"/>
<line x1="317.28" y1="17.5" x2="317.28" y2="21.5"/>
<line x1="325.28" y1="368.6" x2="325.28" y2="364.6"/>
<line x1="325.28" y1="17.5" x2="325.28" y2="21.5"/>
<line x1="332.05" y1="368.6" x2="332.05" y2="364.6"/>
<line x1="332.05" y1="17.5" x2="332.05" y2="21.5"/>
<line x1="337.91" y1="368.6" x2="337.91" y2="364.6"/>
<line x1="337.91" y1="17.5" x2="337.91" y2="21.5"/>
<line x1="343.08" y1="368.6" x2="343.08" y2="364.6"/>
<line x1="343.08" y1="17.5" x2="343.08" y2="21.5"/>
<line x1="347.70" y1="368.6" x2="347.70" y2="364.6"/>
<line x1="347.70" y1="17.5" x2="347.70" y2="21.5"/>
<line x1="378.12" y1="368.6" x2="378.12" y2="364.6"/>
<line x1="378.12" y1="17.5" x2="378.12" y2="21.5"/>
<line x1="395.91" y1="368.6" x2="395.91" y2="364.6"/>
<line x1="395.91" y1="17.5" x2="395.91" y2="21.5"/>
<line x1="44.55" y1="368.61" x2="48.55" y2="368.61"/>
<line x1="396.0" y1="368.61" x2="392.0" y2="368.61"/>
<line x1="44.55" y1="333.37" x2="48.55" y2="333.37"/>
<line x1="396.0" y1="333.37" x2="392.0" y2="333.37"/>
<line x1="44.55" y1="312.75" x2="48.55" y2="312.75"/>
<line x1="396.0" y1="312.75" x2="392.0" y2="312.75"/>
<line x1="44.55" y1="298.13" x2="48.55" y2="298.13"/>
<line x1="396.0" y1="298.13" x2="392.0" y2="298.13"/>
<line x1="44.55" y1="286.78" x2="48.55" y2="286.78"/>
<line x1="396.0" y1="286.78" x2="392.0" y2="286.78"/>
<line x1="44.55" y1="277.51" x2="48.55" y2="277.51"/>
<line x1="396.0" y1="277.51" x2="392.0" y2="277.51"/>
<line x1="44.55" y1="269.67" x2="48.55" y2="269.67"/>
<line x1="396.0" y1="269.67" x2="392.0" y2="269.67"/>
<line x1="44.55" y1="262.89" x2="48.55" y2="262.89"/>
<line x1="396.0" y1="262.89" x2="392.0" y2="262.89"/>
<line x1="44.55" y1="256.90" x2="48.55" y2="256.90"/>
<line x1="396.0" y1="256.90" x2="392.0" y2="256.90"/>
<line x1="44.55" y1="251.54" x2="48.55" y2="251.54"/>
<line x1="396.0" y1="251.54" x2="392.0" y2="251.54"/>
<line x1="44.55" y1="216.30" x2="48.55" y2="216.30"/>
<line x1="396.0" y1="216.30" x2="392.0" y2="216.30"/>
<line x1="44.55" y1="195.68" x2="48.55" y2="195.68"/>
<line x1="396.0" y1="195.68" x2="392.0" y2="195.68"/>
<line x1="44.55" y1="181.06" x2="48.55" y2="181.06"/>
<line x1="396.0" y1="181.06" x2="392.0" y2="181.06"/>
<line x1="44.55" y1="169.71" x2="48.55" y2="169.71"/>
<line x1="396.0" y1="169.71" x2="392.0" y2="169.71"/>
<line x1="44.55" y1="160.44" x2="48.55" y2="160.44"/>
<line x1="396.0" y1="160.44" x2="392.0" y2="160.44"/>
<line x1="44.55" y1="152.60" x2="48.55" y2="152.60"/>
<line x1="396.0" y1="152.60" x2="392.0" y2="152.60"/>
<line x1="44.55" y1="145.82" x2="48.55" y2="145.82"/>
<line x1="396.0" y1="145.82" x2="392.0" y2="145.82"/>
<line x1="44.55" y1="139.83" x2="48.55" y2="139.83"/>
<line x1="396.0" y1="139.83" x2="392.0" y2="139.83"/>
<line x1="44.55" y1="134.47" x2="48.55" y2="134.47"/>
<line x1="396.0" y1="134.47" x2="392.0" y2="134.47"/>
<line x1="44.55" y1="99.23" x2="48.55" y2="99.23"/>
<line x1="396.0" y1="99.23" x2="392.0" y2="99.23"/>
<line x1="44.55" y1="78.61" x2="48.55" y2="78.61"/>
<line x1="396.0" y1="78.61" x2="392.0" y2="78.61"/>
<line x1="44.55" y1="63.99" x2="48.55" y2="63.99"/>
<line x1="396.0" y1="63.99" x2="392.0" y2="63.99"/>
<line x1="44.55" y1="52.64" x2="48.55" y2="52.64"/>
<line x1="396.0" y1="52.64" x2="392.0" y2="52.64"/>
<line x1="44.55" y1="43.37" x2="48.55" y2="43.37"/>
<line x1="396.0" y1="43.37" x2="392.0" y2="43.37"/>
<line x1="44.55" y1="35.53" x2="48.55" y2="35.53"/>
<line x1="396.0" y1="35.53" x2="392.0" y2="35.53"/>
<line x1="44.55" y1="28.75" x2="48.55" y2="28.75"/>
<line x1="396.0" y1="28.75" x2="392.0" y2="28.75"/>
<line x1="44.55" y1="22.76" x2="48.55" y2="22.76"/>
<line x1="396.0" y1="22.76" x2="392.0" y2="22.76"/>
</g>
<rect x="44.55" y="17.5" width="351.45" height="351.1" fill="none" stroke="#4d4d4d" stroke-width="1"/>
<path d="M763 0H583V1147Q518 1085 412.5 1023Q307 961 223 930V1104Q374 1175 487 1276Q600 1377 647 1472H763Z" transform="translate(22.42,21.65) scale(0.00586,-0.00586)" fill="#000"/>
<text x="29.09" y="21.65" font-family="Liberation Sans, sans-serif" font-size="12" fill="#000">0</text>
<text x="35.96" y="16.75" font-family="Liberation Sans, sans-serif" font-size="9.6" fill="#000">4</text>
<path d="M763 0H583V1147Q518 1085 412.5 1023Q307 961 223 930V1104Q374 1175 487 1276Q600 1377 647 1472H763Z" transform="translate(22.42,138.72) scale(0.00586,-0.00586)" fill="#000"/>
<text x="29.09" y="138.72" font-family="Liberation Sans, sans-serif" font-size="12" fill="#000">0</text>
<text x="35.96" y="133.82" font-family="Liberation Sans, sans-serif" font-size="9.6" fill="#000">3</text>
<path d="M763 0H583V1147Q518 1085 412.5 1023Q307 961 223 930V1104Q374 1175 487 1276Q600 1377 647 1472H763Z" transform="translate(22.42,255.79) scale(0.00586,-0.00586)" fill="#000"/>
<text x="29.09" y="255.79" font-family="Liberation Sans, sans-serif" font-size="12" fill="#000">0</text>
<text x="35.96" y="250.89" font-family="Liberation Sans, sans-serif" font-size="9.6" fill="#000">2</text>
<path d="M763 0H583V1147Q518 1085 412.5 1023Q307 961 223 930V1104Q374 1175 487 1276Q600 1377 647 1472H763Z" transform="translate(28.26,373.46) scale(0.00586,-0.00586)" fill="#000"/>
<text x="34.93" y="373.46" font-family="Liberation Sans, sans-serif" font-size="12" fill="#000">0</text>
<path d="M763 0H583V1147Q518 1085 412.5 1023Q307 961 223 930V1104Q374 1175 487 1276Q600 1377 647 1472H763Z" transform="translate(133.46,383.40) scale(0.00586,-0.00586)" fill="#000"/>
<text x="140.13" y="383.40" font-family="Liberation Sans, sans-serif" font-size="12" fill="#000">0</text>
<text x="147.00" y="378.50" font-family="Liberation Sans, sans-serif" font-size="9.6" fill="#000">−</text>
<path d="M763 0H583V1147Q518 1085 412.5 1023Q307 961 223 930V1104Q374 1175 487 1276Q600 1377 647 1472H763Z" transform="translate(152.61,378.50) scale(0.00469,-0.00469)" fill="#000"/>
<path d="M763 0H583V1147Q518 1085 412.5 1023Q307 961 223 930V1104Q374 1175 487 1276Q600 1377 647 1472H763Z" transform="translate(243.01,383.40) scale(0.00586,-0.00586)" fill="#000"/>
<path d="M763 0H583V1147Q518 1085 412.5 1023Q307 961 223 930V1104Q374 1175 487 1276Q600 1377 647 1472H763Z" transform="translate(341.33,383.40) scale(0.00586,-0.00586)" fill="#000"/>
<text x="348.00" y="383.40" font-family="Liberation Sans, sans-serif" font-size="12" fill="#000">0</text>
<text x="221.2" y="404.6" font-family="Liberation Sans, sans-serif" font-size="14.5" font-style="italic" text-anchor="middle" fill="#000">δ</text>
<text transform="translate(13.0,193.3) rotate(-90)" font-family="Liberation Sans, sans-serif" font-size="14.2" text-anchor="middle" fill="#000">Λ [GeV]</text>
<text x="74.8" y="40.2" font-family="Liberation Sans, sans-serif" font-size="12.15" font-style="italic" fill="#000">m</text>
<text x="84.92" y="42.2" font-family="Liberation Sans, sans-serif" font-size="9" fill="#000">2</text>
<text x="89.52" y="40.20" font-family="Liberation Sans, sans-serif" font-size="12.15" fill="#000">=</text>
<path d="M763 0H583V1147Q518 1085 412.5 1023Q307 961 223 930V1104Q374 1175 487 1276Q600 1377 647 1472H763Z" transform="translate(96.62,40.20) scale(0.00593,-0.00593)" fill="#000"/>
<text x="106.75" y="40.2" font-family="Liberation Sans, sans-serif" font-size="12.15" fill="#000">GeV</text>
<text x="74.8" y="59.7" font-family="Liberation Sans, sans-serif" font-size="12.15" fill="#00a800">SHiP</text>
<text x="74.8" y="79.9" font-family="Liberation Sans, sans-serif" font-size="12.15" fill="#ff0000">CHARM</text>
<text x="74.8" y="100.3" font-family="Liberation Sans, sans-serif" font-size="12.15" fill="#000">MATHUSLA</text>
<text x="74.8" y="120.3" font-family="Liberation Sans, sans-serif" font-size="12.15" fill="#0000ff">FASER</text>
</svg>
</body></html>
